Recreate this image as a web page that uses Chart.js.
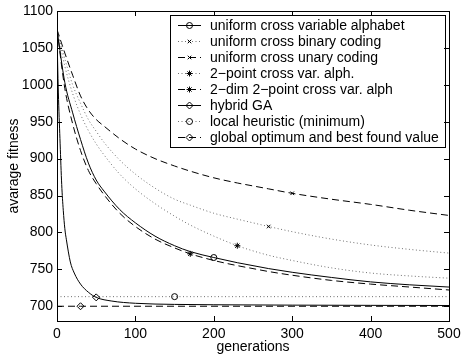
<!DOCTYPE html>
<html>
<head>
<meta charset="utf-8">
<script src="https://cdn.jsdelivr.net/npm/chart.js@4.4.1/dist/chart.umd.min.js"></script>
<style>
  html, body { margin: 0; padding: 0; background: #fff; }
  #wrap { width: 462px; height: 356px; }
</style>
</head>
<body>
<div id="wrap"><canvas id="fitnessChart" width="462" height="356"></canvas></div>
<script>
// generations sampled for the GA curves
const generations = [0, 10, 20, 30, 40, 50, 60, 80, 100, 125, 150, 170, 200, 230, 250, 270, 300, 350, 400, 450, 500];
const uniformVarAlph = [1075, 1003, 962, 926, 894, 871, 856, 831, 813, 795, 782, 774, 766, 759, 755, 751, 746, 739, 733, 729, 726];
const uniformBinary  = [1075, 1035, 1000, 975, 953, 937, 922, 898, 879, 860, 845, 837, 826, 818, 813, 808, 801, 791, 783, 777, 772];
const uniformUnary   = [1075, 1043, 1013, 985, 966, 953, 944, 927, 913, 900, 890, 883, 874, 867, 863, 859, 853, 845, 838, 830, 823];
const twoPointVar    = [1075, 1025, 988, 960, 938, 920, 905, 879, 859, 839, 822, 810, 795, 782, 775, 769, 762, 752, 745, 741, 738];
const twoDimTwoPoint = [1075, 995, 947, 911, 884, 866, 851, 826, 808, 791, 779, 771, 762, 755, 751, 747, 742, 735, 730, 726, 722];

const hybridGens = [0, 1, 2, 4, 6, 8, 10, 12, 17, 22, 30, 40, 50, 70, 100, 150, 200, 300, 400, 500];
const hybridGA   = [1075, 1020, 980, 920, 865, 830, 805, 790, 760, 745, 730, 719, 712, 707, 704, 702.5, 702, 701.5, 701.2, 701];

const localGens = [0, 150, 500];
const localHeuristic = [713, 713, 713];
const globalGens = [0, 30, 500];
const globalOptimum = [700, 700, 700];

const xTicks = [0, 100, 200, 300, 400, 500];
const yTicks = [700, 750, 800, 850, 900, 950, 1000, 1050, 1100];

function pts(xs, ys) {
  return xs.map((x, i) => ({ x: x, y: ys[i] }));
}
// one marker per curve, at the given generation
function markAt(xs, gen, r) {
  return ctx => (xs[ctx.dataIndex] === gen ? r : 0);
}

const DOT = "#6e6e6e";
const series = [
  { label: "uniform cross variable alphabet", xs: generations, ys: uniformVarAlph, mark: 200, style: "circle", color: "#000", dash: [], r: 3 },
  { label: "uniform cross binary coding", xs: generations, ys: uniformBinary, mark: 270, style: "crossRot", color: DOT, dash: [1, 2.5], r: 2.5 },
  { label: "uniform cross unary coding", xs: generations, ys: uniformUnary, mark: 300, style: "crossRot", color: "#000", dash: [7, 4], r: 2.5 },
  { label: "2\u2212point cross var. alph.", xs: generations, ys: twoPointVar, mark: 230, style: "star", color: DOT, dash: [1, 2.5], r: 3 },
  { label: "2\u2212dim 2\u2212point cross var. alph", xs: generations, ys: twoDimTwoPoint, mark: 170, style: "star", color: "#000", dash: [7, 4], r: 3 },
  { label: "hybrid GA", xs: hybridGens, ys: hybridGA, mark: 50, style: "rectRot", color: "#000", dash: [], r: 3.5 },
  { label: "local heuristic (minimum)", xs: localGens, ys: localHeuristic, mark: 150, style: "circle", color: DOT, dash: [1, 2.5], r: 3 },
  { label: "global optimum and best found value", xs: globalGens, ys: globalOptimum, mark: 30, style: "rectRot", color: "#000", dash: [7, 4], r: 3.5 }
];

const datasets = series.map(s => ({
  label: s.label,
  data: pts(s.xs, s.ys),
  borderColor: s.color,
  borderWidth: 1,
  borderDash: s.dash,
  fill: false,
  cubicInterpolationMode: "monotone",
  pointStyle: s.style,
  pointRadius: markAt(s.xs, s.mark, s.r),
  pointBorderColor: "#000",
  pointBackgroundColor: "rgba(0,0,0,0)",
  pointBorderWidth: 1
}));

// MATLAB-like box with inward ticks on all four sides
const boxPlugin = {
  id: "box",
  afterDraw(chart) {
    const { ctx, chartArea: a, scales } = chart;
    ctx.save();
    ctx.strokeStyle = "#000";
    ctx.lineWidth = 1;
    ctx.setLineDash([]);
    ctx.strokeRect(Math.round(a.left) + 0.5, Math.round(a.top) + 0.5, Math.round(a.right - a.left), Math.round(a.bottom - a.top));
    const t = 5;
    ctx.beginPath();
    xTicks.forEach(v => {
      const x = Math.round(scales.x.getPixelForValue(v)) + 0.5;
      ctx.moveTo(x, a.bottom); ctx.lineTo(x, a.bottom - t);
      ctx.moveTo(x, a.top); ctx.lineTo(x, a.top + t);
    });
    yTicks.forEach(v => {
      const y = Math.round(scales.y.getPixelForValue(v)) + 0.5;
      ctx.moveTo(a.left, y); ctx.lineTo(a.left + t, y);
      ctx.moveTo(a.right, y); ctx.lineTo(a.right - t, y);
    });
    ctx.stroke();
    ctx.restore();
  }
};

// legend box inside the plot, top right
const legendPlugin = {
  id: "boxLegend",
  afterDatasetsDraw(chart) {
    const { ctx, chartArea: a } = chart;
    const w = 275, h = 132;
    const left = Math.round(a.right) - 4 - w, top = Math.round(a.top) + 4;
    ctx.save();
    ctx.fillStyle = "#fff";
    ctx.fillRect(left, top, w, h);
    ctx.strokeStyle = "#000";
    ctx.lineWidth = 1;
    ctx.strokeRect(left + 0.5, top + 0.5, w, h);
    ctx.font = "14px 'Liberation Sans', Arial, sans-serif";
    ctx.textBaseline = "middle";
    series.forEach((s, i) => {
      const y = top + 10.5 + i * 16;
      ctx.strokeStyle = s.color;
      ctx.setLineDash(s.dash);
      ctx.beginPath();
      ctx.moveTo(left + 8, y);
      ctx.lineTo(left + 31, y);
      ctx.stroke();
      ctx.setLineDash([]);
      ctx.strokeStyle = "#000";
      ctx.fillStyle = "rgba(0,0,0,0)";
      Chart.helpers.drawPoint(ctx, { pointStyle: s.style, radius: s.r, borderWidth: 1, rotation: 0 }, left + 19.5, y);
      ctx.fillStyle = "#000";
      ctx.fillText(s.label, left + 40, y + 0.5);
    });
    ctx.restore();
  }
};

const font = { family: "'Liberation Sans', Arial, sans-serif", size: 14 };

new Chart(document.getElementById("fitnessChart").getContext("2d"), {
  type: "line",
  data: { datasets: datasets },
  plugins: [legendPlugin, boxPlugin],
  options: {
    responsive: false,
    animation: false,
    layout: { padding: { top: 11, right: 13, bottom: 0, left: 0 } },
    plugins: { legend: { display: false }, tooltip: { enabled: false } },
    scales: {
      x: {
        type: "linear",
        min: 0,
        max: 500,
        afterBuildTicks: s => { s.ticks = xTicks.map(v => ({ value: v })); },
        afterFit: s => { s.height = 35; s.paddingLeft = 0; s.paddingRight = 0; },
        grid: { display: false, drawTicks: false },
        border: { display: false },
        ticks: { color: "#000", font: font, padding: 5, maxRotation: 0, callback: v => String(v) },
        title: { display: true, text: "generations", color: "#000", font: font, padding: { top: 0, bottom: 0 } }
      },
      y: {
        type: "linear",
        min: 680,
        max: 1100,
        afterBuildTicks: s => { s.ticks = yTicks.map(v => ({ value: v })); },
        afterFit: s => { s.width = 57; s.paddingTop = 0; s.paddingBottom = 0; },
        grid: { display: false, drawTicks: false },
        border: { display: false },
        ticks: { color: "#000", font: font, padding: 4, callback: v => String(v) },
        title: { display: true, text: "avarage fitness", color: "#000", font: font, padding: { top: 6, bottom: 0 } }
      }
    }
  }
});
</script>
</body>
</html>
